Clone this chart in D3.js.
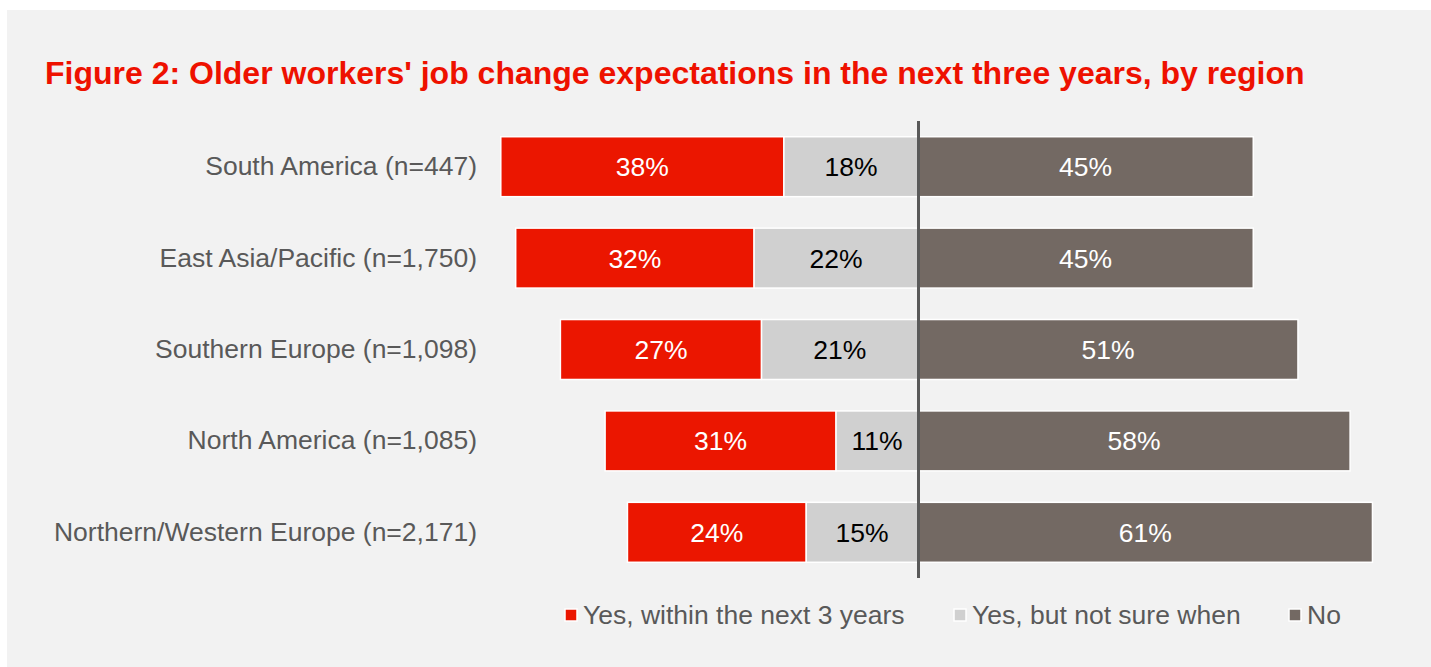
<!DOCTYPE html>
<html>
<head>
<meta charset="utf-8">
<script src="https://cdn.jsdelivr.net/npm/d3@7"></script>
<style>
  html, body { margin: 0; padding: 0; background: #ffffff; }
  svg { display: block; }
  text { font-family: "Liberation Sans", Arial, sans-serif; }
</style>
</head>
<body>
<svg id="chart" width="1431" height="667"></svg>
<script>
// Survey regions, top to bottom
const regions = [
  "South America (n=447)",
  "East Asia/Pacific (n=1,750)",
  "Southern Europe (n=1,098)",
  "North America (n=1,085)",
  "Northern/Western Europe (n=2,171)"
];
// Share of respondents (%) per answer
const yesWithin3 = [38, 32, 27, 31, 24];
const yesNotSure = [18, 22, 21, 11, 15];
const noChange   = [45, 45, 51, 58, 61];

const seriesNames = ["Yes, within the next 3 years", "Yes, but not sure when", "No"];
const seriesColors = ["#EB1600", "#D0D0D0", "#736963"];
const labelColors = ["#ffffff", "#000000", "#ffffff"];

const svg = d3.select("#chart");
const W = 1431, H = 667;

// panel background
svg.append("rect").attr("x", 7).attr("y", 10).attr("width", W - 7).attr("height", H - 10)
  .attr("fill", "#F2F2F2");

// title
svg.append("text")
  .attr("x", 45).attr("y", 84)
  .attr("fill", "#EE1100")
  .attr("font-weight", "bold")
  .attr("font-size", 32)
  .text("Figure 2: Older workers' job change expectations in the next three years, by region");

// diverging scale: "yes" answers to the left of zero, "no" to the right
const centerX = 918, pxPerPct = 7.45;
const x = d3.scaleLinear().domain([-60, 65])
  .range([centerX - 60 * pxPerPct, centerX + 65 * pxPerPct]);

const y = d3.scaleBand().domain(regions).range([121, 578]).paddingInner(0.344).paddingOuter(0.172);

// build stacked segments
const segments = [];
regions.forEach((r, i) => {
  const a = yesWithin3[i], b = yesNotSure[i], c = noChange[i];
  segments.push({ region: r, s: 0, x0: -(a + b), x1: -b, v: a });
  segments.push({ region: r, s: 1, x0: -b, x1: 0, v: b });
  segments.push({ region: r, s: 2, x0: 0, x1: c, v: c });
});

const g = svg.append("g");
g.selectAll("rect.seg").data(segments).join("rect")
  .attr("class", "seg")
  .attr("x", d => x(d.x0))
  .attr("y", d => y(d.region))
  .attr("width", d => x(d.x1) - x(d.x0))
  .attr("height", y.bandwidth())
  .attr("fill", d => seriesColors[d.s])
  .attr("stroke", "#ffffff")
  .attr("stroke-width", 1.5);

g.selectAll("text.val").data(segments).join("text")
  .attr("class", "val")
  .attr("x", d => (x(d.x0) + x(d.x1)) / 2)
  .attr("y", d => y(d.region) + y.bandwidth() / 2)
  .attr("dy", "0.36em")
  .attr("text-anchor", "middle")
  .attr("font-size", 26.5)
  .attr("fill", d => labelColors[d.s])
  .text(d => d.v + "%");

// category axis labels
const yAxis = d3.axisLeft(y).tickSize(0).tickPadding(0);
const ya = svg.append("g").attr("transform", "translate(477,0)").call(yAxis);
ya.select(".domain").remove();
ya.selectAll("text")
  .attr("font-size", 26.5)
  .attr("fill", "#595959")
  .attr("font-family", "'Liberation Sans', Arial, sans-serif");

// zero line
svg.append("line")
  .attr("x1", x(0) + 0.5).attr("x2", x(0) + 0.5)
  .attr("y1", 121).attr("y2", 578)
  .attr("stroke", "#595959").attr("stroke-width", 3);

// legend
const legendX = [565, 954, 1289];
const lg = svg.append("g");
seriesNames.forEach((n, i) => {
  lg.append("rect")
    .attr("x", legendX[i]).attr("y", 609)
    .attr("width", 12).attr("height", 12)
    .attr("fill", seriesColors[i])
    .attr("stroke", "#ffffff").attr("stroke-width", 1.5);
  lg.append("text")
    .attr("x", legendX[i] + 18).attr("y", 624)
    .attr("font-size", 26.5)
    .attr("fill", "#595959")
    .text(n);
});
</script>
</body>
</html>
